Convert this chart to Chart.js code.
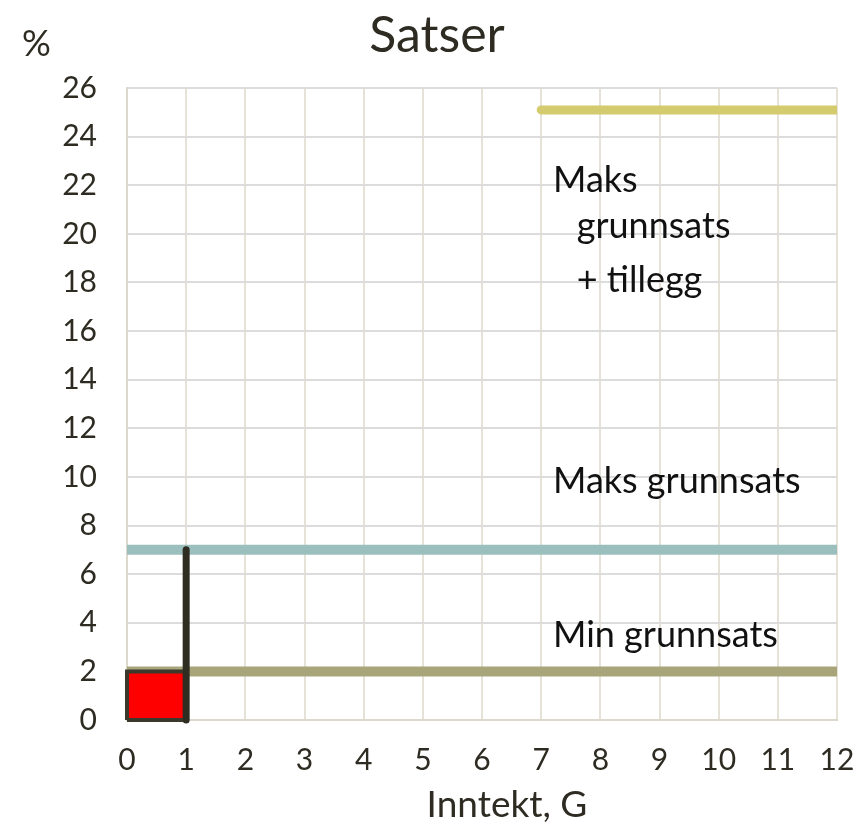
<!DOCTYPE html>
<html>
<head>
<meta charset="utf-8">
<script src="https://cdn.jsdelivr.net/npm/chart.js@4/dist/chart.umd.min.js"></script>
<style>
  html, body { margin: 0; padding: 0; background: #fff; }
  #wrap { width: 861px; height: 830px; }
</style>
</head>
<body>
<div id="wrap"><canvas id="satser"></canvas></div>
<script>
// akser
const xTicks = [0, 1, 2, 3, 4, 5, 6, 7, 8, 9, 10, 11, 12];
const yTicks = [0, 2, 4, 6, 8, 10, 12, 14, 16, 18, 20, 22, 24, 26];

// serier (inntekt i G, sats i %)
const maksTilleggX = [7, 12];
const maksTilleggY = [25.1, 25.1];
const maksGrunnX = [0, 12];
const maksGrunnY = [7, 7];
const minGrunnX = [0, 12];
const minGrunnY = [2, 2];
const grenseX = [1, 1];
const grenseY = [0, 7];
// rød rute: 0-1 G, 0-2 %
const ruteX = [0, 0, 1, 1, 0];
const ruteY = [0, 2, 2, 0, 0];
const ruteToppX = [0, 1];
const ruteToppY = [2, 2];

const FONT = "Lato, 'Open Sans', sans-serif";
const TEXT = "#2e2c22";

function punkter(xs, ys) {
  return xs.map((x, i) => ({ x: x, y: ys[i] }));
}

// tittel, aksetitler og tekst inne i plottet
const etiketter = {
  id: "etiketter",
  afterDatasetsDraw(chart) {
    const ctx = chart.ctx;
    const x = chart.scales.x, y = chart.scales.y;
    ctx.save();
    ctx.textBaseline = "middle";

    ctx.fillStyle = TEXT;
    ctx.textAlign = "center";
    ctx.font = "50px " + FONT;
    ctx.fillText("Satser", 437, 36);
    ctx.font = "37px " + FONT;
    ctx.fillText("Inntekt, G", 507, 805);

    ctx.textAlign = "left";
    ctx.font = "36px " + FONT;
    ctx.fillText("%", 22, 44);

    ctx.fillStyle = "#111";
    ctx.font = "36px " + FONT;
    ctx.fillText("Maks", x.getPixelForValue(7.2), y.getPixelForValue(22.2));
    ctx.fillText("grunnsats", x.getPixelForValue(7.6), y.getPixelForValue(20.3));
    ctx.fillText("+ tillegg", x.getPixelForValue(7.6), y.getPixelForValue(18.1));
    ctx.fillText("Maks grunnsats", x.getPixelForValue(7.2), y.getPixelForValue(9.8));
    ctx.fillText("Min grunnsats", x.getPixelForValue(7.2), y.getPixelForValue(3.5));
    ctx.restore();
  }
};

const klipp = { left: 6, right: 0, top: 10, bottom: 10 };

new Chart(document.getElementById("satser"), {
  type: "line",
  data: {
    datasets: [
      {
        label: "Grense",
        data: punkter(grenseX, grenseY),
        borderColor: "#2f2c22",
        borderWidth: 7,
        borderCapStyle: "round",
        pointRadius: 0,
        clip: klipp
      },
      {
        label: "Rute kant",
        data: punkter(ruteX, ruteY),
        borderColor: "#3b392c",
        borderWidth: 4,
        fill: false,
        pointRadius: 0,
        clip: klipp
      },
      {
        label: "Rute",
        data: punkter(ruteToppX, ruteToppY),
        borderWidth: 0,
        backgroundColor: "#ff0000",
        fill: "origin",
        pointRadius: 0,
        clip: klipp
      },
      {
        label: "Min grunnsats",
        data: punkter(minGrunnX, minGrunnY),
        borderColor: "#a9a57a",
        borderWidth: 10,
        pointRadius: 0,
        clip: klipp
      },
      {
        label: "Maks grunnsats",
        data: punkter(maksGrunnX, maksGrunnY),
        borderColor: "#9bbfbd",
        borderWidth: 10,
        pointRadius: 0,
        clip: klipp
      },
      {
        label: "Maks grunnsats + tillegg",
        data: punkter(maksTilleggX, maksTilleggY),
        borderColor: "#d3cb6d",
        borderWidth: 9,
        borderCapStyle: "round",
        pointRadius: 0,
        clip: klipp
      }
    ]
  },
  options: {
    responsive: true,
    maintainAspectRatio: false,
    animation: false,
    layout: { padding: { left: 0, right: 24, top: 88, bottom: 0 } },
    plugins: {
      legend: { display: false },
      tooltip: { enabled: false },
      title: { display: false }
    },
    scales: {
      x: {
        type: "linear",
        min: 0,
        max: 12,
        afterBuildTicks: axis => { axis.ticks = xTicks.map(v => ({ value: v })); },
        ticks: { color: TEXT, font: { family: FONT, size: 30 }, padding: 22, maxRotation: 0 },
        grid: { color: "#e6e2d8", lineWidth: 2, drawTicks: false },
        border: { color: "#dcd8cc", width: 2 },
        title: { display: false },
        afterFit: axis => {
          axis.height = 110;
          axis.paddingLeft = 0;
          axis.paddingRight = 0;
        }
      },
      y: {
        type: "linear",
        min: 0,
        max: 26,
        afterBuildTicks: axis => { axis.ticks = yTicks.map(v => ({ value: v })); },
        ticks: { color: TEXT, font: { family: FONT, size: 30 }, padding: 30 },
        grid: { color: "#dcdcdc", lineWidth: 2, drawTicks: false },
        border: { color: "#dcd8cc", width: 2 },
        afterFit: axis => {
          axis.width = 127;
          axis.paddingTop = 0;
          axis.paddingBottom = 0;
        }
      }
    }
  },
  plugins: [etiketter]
});
</script>
</body>
</html>
